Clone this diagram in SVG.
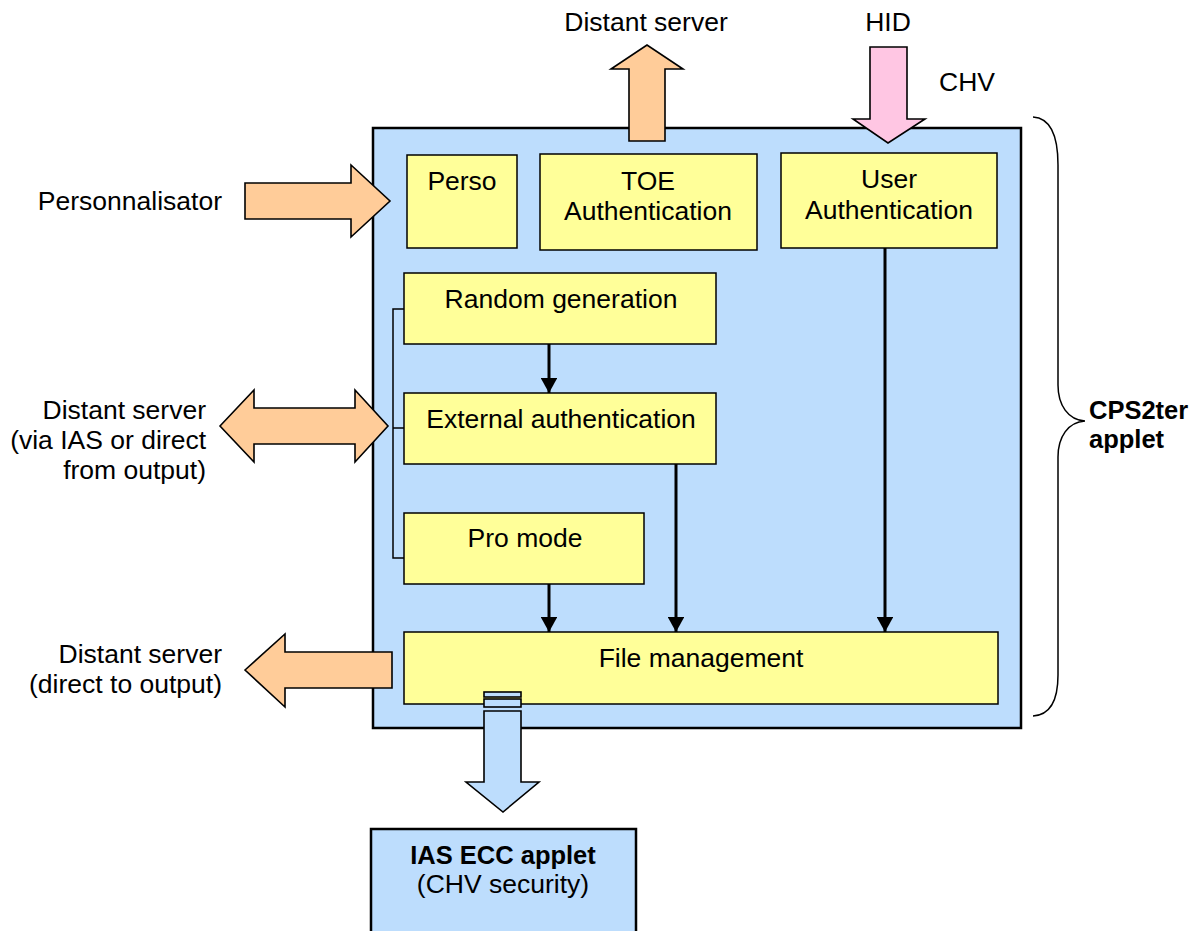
<svg xmlns="http://www.w3.org/2000/svg" width="1202" height="931" viewBox="0 0 1202 931">
<style>
text{font-family:"Liberation Sans",Arial,sans-serif;font-size:26.5px;fill:#000}
.c{text-anchor:middle}
.r{text-anchor:end}
.b{font-weight:bold;font-size:25.5px}
.box{fill:#FFFF99;stroke:#000;stroke-width:1.5}
.big{fill:#BDDDFD;stroke:#000;stroke-width:2.5}
.orange{fill:#FFCC99;stroke:#000;stroke-width:1.6;stroke-linejoin:miter}
.pink{fill:#FFC6E3;stroke:#000;stroke-width:1.6}
.blue{fill:#BDDDFD;stroke:#000;stroke-width:1.6}
.conn{fill:none;stroke:#000;stroke-width:3}
.thin{fill:none;stroke:#000;stroke-width:1.5}
</style>
<defs>
<marker id="ah" viewBox="0 0 10 10" refX="10" refY="5" markerWidth="5" markerHeight="5.5" markerUnits="strokeWidth" orient="auto" preserveAspectRatio="none">
<path d="M0,0 L10,5 L0,10 Z" fill="#000"/>
</marker>
</defs>

<g id="cps2ter">
<rect class="big" x="373" y="128" width="648" height="600"/>
</g>

<g id="perso"><rect class="box" x="407" y="155" width="110" height="93"/><text class="c" x="462" y="190">Perso</text></g>
<g id="toe"><rect class="box" x="540" y="154" width="217" height="96"/><text class="c" x="648" y="190">TOE</text><text class="c" x="648" y="220">Authentication</text></g>
<g id="userauth"><rect class="box" x="781" y="153" width="216" height="95"/><text class="c" x="889" y="188">User</text><text class="c" x="889" y="219">Authentication</text></g>
<g id="random"><rect class="box" x="404" y="273" width="312" height="71"/><text class="c" x="561" y="308">Random generation</text></g>
<g id="extauth"><rect class="box" x="404" y="393" width="312" height="71"/><text class="c" x="561" y="428">External authentication</text></g>
<g id="promode"><rect class="box" x="404" y="513" width="240" height="71"/><text class="c" x="525" y="547">Pro mode</text></g>
<g id="filemgmt"><rect class="box" x="404" y="632" width="594" height="72"/><text class="c" x="701" y="667">File management</text></g>

<g id="connectors">
<path class="thin" d="M404,309 H393 V558 H404 M393,428 H404"/>
<line class="conn" x1="549" y1="344" x2="549" y2="393" marker-end="url(#ah)"/>
<line class="conn" x1="676" y1="464" x2="676" y2="632" marker-end="url(#ah)"/>
<line class="conn" x1="549" y1="584" x2="549" y2="632" marker-end="url(#ah)"/>
<line class="conn" x1="885" y1="248" x2="885" y2="632" marker-end="url(#ah)"/>
<polygon class="orange" points="629,141 629,69 611,69 647,45 683,69 665,69 665,141"/>
<polygon class="pink" points="870,47 907,47 907,119 925,119 888,143 853,119 870,119"/>
<polygon class="orange" points="245,183 351,183 351,165 390,201 351,237 351,219 245,219"/>
<polygon class="orange" points="220,426 254,390 254,408 355,408 355,390 388,426 355,462 355,444 254,444 254,462"/>
<polygon class="orange" points="245,670 285,634 285,652 392,652 392,688 285,688 285,707"/>
<rect class="blue" x="484" y="692" width="37" height="5"/>
<rect class="blue" x="484" y="699" width="37" height="8"/>
<polygon class="blue" points="484,711 521,711 521,782 539,782 503,812 466,782 484,782"/>
<path class="thin" d="M1033,117 C1050,118 1058,135 1058,165 L1058,385 C1058,405 1068,420 1085,421 C1068,422 1058,437 1058,457 L1058,675 C1058,700 1050,715 1033,716"/>
</g>

<g id="ias">
<rect class="big" x="371" y="829" width="265" height="120"/>
<text class="c b" x="503" y="864">IAS ECC applet</text>
<text class="c" x="503" y="893">(CHV security)</text>
</g>

<g id="labels">
<text class="c" x="646" y="31">Distant server</text>
<text class="c" x="888" y="31">HID</text>
<text x="939" y="91">CHV</text>
<text class="r" x="222" y="210">Personnalisator</text>
<text class="r" x="206" y="419">Distant server</text>
<text class="r" x="206" y="449">(via IAS or direct</text>
<text class="r" x="206" y="479">from output)</text>
<text class="r" x="222" y="663">Distant server</text>
<text class="r" x="222" y="693">(direct to output)</text>
<text class="b" x="1089" y="419">CPS2ter</text>
<text class="b" x="1089" y="448">applet</text>
</g>
</svg>
